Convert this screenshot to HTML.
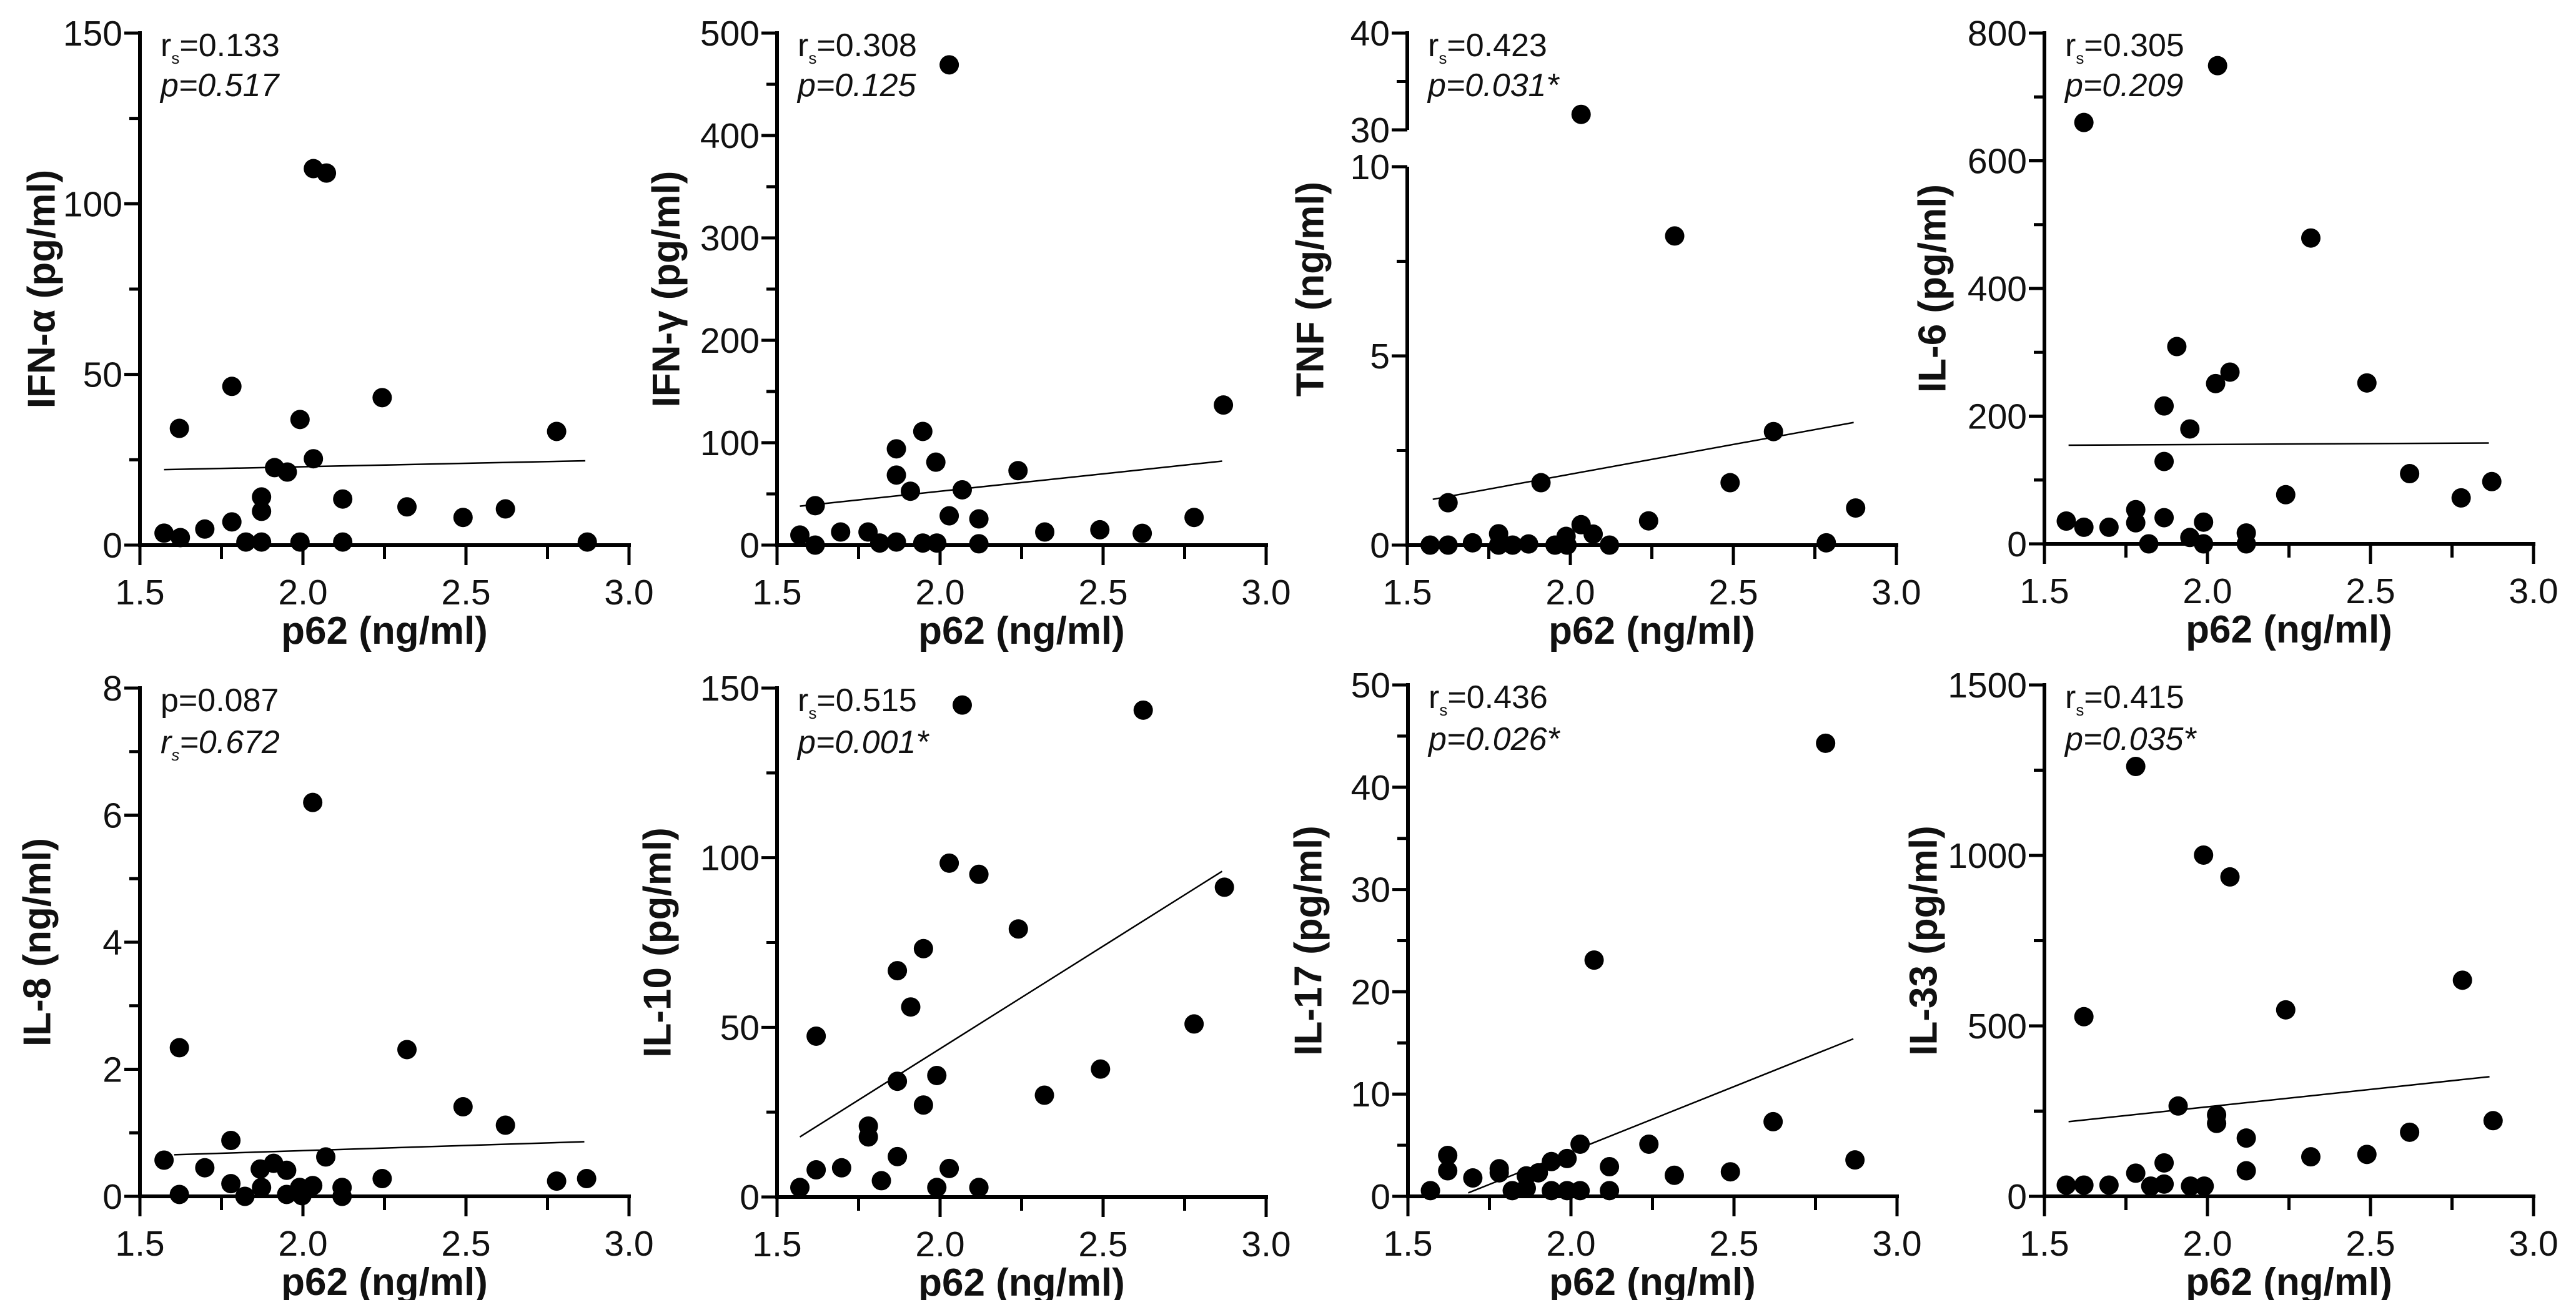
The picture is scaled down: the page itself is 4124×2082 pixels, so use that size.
<!DOCTYPE html>
<html><head><meta charset="utf-8"><style>
html,body{margin:0;padding:0;background:#fff;}
svg{display:block;font-family:"Liberation Sans",Arial,sans-serif;}
</style></head><body>
<svg id="fig" width="4124" height="2082" viewBox="0 0 4124 2082"></svg>
<script>
// ---- data (x = p62 ng/ml, y = cytokine) ----
const ifnaX=[1.574,1.624,1.699,1.782,1.782,1.621,1.825,1.873,1.873,1.873,1.913,1.952,1.991,1.991,2.032,2.032,2.072,2.122,2.122,2.243,2.319,2.491,2.621,2.778,2.872];
const ifnaY=[3.5,2.2,4.7,6.8,46.5,34.2,0.9,0.9,14.1,9.9,22.7,21.4,36.8,0.9,25.3,110.3,109,13.5,0.9,43.2,11.2,8.1,10.6,33.3,0.9];
const ifnaFit=[[1.574,22.1],[2.866,24.7]];
const ifngX=[1.570,1.617,1.617,1.695,1.779,1.815,1.866,1.866,1.866,1.909,1.947,1.947,1.987,1.99,2.028,2.028,2.068,2.119,2.119,2.239,2.321,2.49,2.62,2.779,2.869];
const ifngY=[9.8,0,38.5,12.8,12.8,2,3,68.4,94,52.6,111,2,81,2,28.6,469,54,25.6,1.3,72.7,12.8,15,11.5,27,136.8];
const ifngFit=[[1.57,38],[2.865,82]];
const tnfX=[1.57,1.625,1.625,1.70,1.78,1.78,1.823,1.872,1.91,1.953,1.987,1.99,2.033,2.033,2.07,2.12,2.24,2.32,2.49,2.623,2.785,2.875];
const tnfY=[0,0,1.12,0.06,0.3,0,0,0.03,1.65,0,0.23,0,0.54,31.6,0.29,0,0.64,8.17,1.65,3.0,0.06,0.98];
const tnfFit=[[1.578,1.21],[2.869,3.24]];
const il6X=[1.567,1.621,1.621,1.698,1.78,1.78,1.82,1.867,1.867,1.867,1.906,1.946,1.946,1.988,1.988,2.025,2.031,2.069,2.119,2.119,2.24,2.317,2.489,2.62,2.778,2.872];
const il6Y=[35.7,26,660,26,53.6,33,0,41,129,216,309,180,10,34,0,251,749,269,17,0,77,479,252,110,72,97.5];
const il6Fit=[[1.574,154.5],[2.863,158]];
const il8X=[1.574,1.621,1.621,1.699,1.779,1.779,1.822,1.869,1.873,1.91,1.95,1.95,1.99,1.997,2.03,2.03,2.07,2.12,2.12,2.243,2.319,2.491,2.621,2.778,2.87];
const il8Y=[0.57,0.03,2.34,0.45,0.88,0.2,0,0.43,0.14,0.52,0.41,0.03,0.14,0.01,0.17,6.2,0.62,0.14,0,0.28,2.31,1.41,1.12,0.24,0.28];
const il8Fit=[[1.605,0.655],[2.863,0.86]];
const il10X=[1.57,1.62,1.62,1.698,1.78,1.78,1.82,1.869,1.869,1.869,1.91,1.949,1.949,1.99,1.99,2.028,2.028,2.068,2.119,2.119,2.24,2.32,2.492,2.623,2.779,2.872];
const il10Y=[2.8,8,47.4,8.6,20.9,17.7,4.8,11.9,34.1,66.7,56,73.2,27.1,35.8,2.8,98.4,8.4,145,95.1,2.8,79,30,37.7,143.5,51,91.3];
const il10Fit=[[1.57,17.7],[2.865,96]];
const il17X=[1.569,1.622,1.622,1.699,1.78,1.78,1.82,1.863,1.863,1.90,1.94,1.94,1.988,1.988,2.028,2.028,2.071,2.118,2.118,2.239,2.317,2.489,2.62,2.781,2.871];
const il17Y=[0.56,2.5,4,1.8,2.7,2.3,0.56,2,0.8,2.3,3.4,0.56,3.7,0.56,0.56,5.1,23.1,2.9,0.56,5.1,2.06,2.4,7.3,44.3,3.56];
const il17Fit=[[1.685,0.34],[2.866,15.4]];
const il33X=[1.567,1.621,1.621,1.698,1.78,1.78,1.826,1.867,1.867,1.91,1.948,1.988,1.99,2.028,2.028,2.069,2.119,2.119,2.24,2.317,2.489,2.62,2.782,2.876];
const il33Y=[33,33,527,33,68,1261,30,98,36,265,30,1001,30,239,214,937,171,75,547,116,123,188,634,222];
const il33Fit=[[1.574,219],[2.865,351]];
const xTicks=[1.5,2.0,2.5,3.0];
const xTickLabels=["1.5","2.0","2.5","3.0"];

const NS="http://www.w3.org/2000/svg";
const svg=document.getElementById('fig');
function el(tag,attrs,parent){const e=document.createElementNS(NS,tag);for(const k in attrs)e.setAttribute(k,attrs[k]);(parent||svg).appendChild(e);return e;}

const panels=[
 {id:'ifn-alpha',ax:224,top:53,bot:873,ymax:150,major:[0,50,100,150],minor:[25,75,125],title:'IFN-α (pg/ml)',toff:157,xs:ifnaX,ys:ifnaY,fit:ifnaFit,l1:['r','=0.133',false],l2:['p','=0.517',true]},
 {id:'ifn-gamma',ax:1244,top:53,bot:873,ymax:500,major:[0,100,200,300,400,500],minor:[50,150,250,350,450],title:'IFN-γ (pg/ml)',toff:177,xs:ifngX,ys:ifngY,fit:ifngFit,l1:['r','=0.308',false],l2:['p','=0.125',true]},
 {id:'tnf',ax:2253,top:53,bot:873,brk:true,title:'TNF (ng/ml)',toff:155,xs:tnfX,ys:tnfY,fit:tnfFit,l1:['r','=0.423',false],l2:['p','=0.031*',true]},
 {id:'il-6',ax:3273,top:53,bot:871,ymax:800,major:[0,200,400,600,800],minor:[100,300,500,700],title:'IL-6 (pg/ml)',toff:179,xs:il6X,ys:il6Y,fit:il6Fit,l1:['r','=0.305',false],l2:['p','=0.209',true]},
 {id:'il-8',ax:224,top:1102,bot:1916,ymax:8,major:[0,2,4,6,8],minor:[1,3,5,7],title:'IL-8 (ng/ml)',toff:164,xs:il8X,ys:il8Y,fit:il8Fit,l1:['p','=0.087',false,true],l2:['r','=0.672',true]},
 {id:'il-10',ax:1244,top:1102,bot:1917,ymax:150,major:[0,50,100,150],minor:[25,75,125],title:'IL-10 (pg/ml)',toff:191,xs:il10X,ys:il10Y,fit:il10Fit,l1:['r','=0.515',false],l2:['p','=0.001*',true]},
 {id:'il-17',ax:2254,top:1097,bot:1916,ymax:50,major:[0,10,20,30,40,50],minor:[5,15,25,35,45],title:'IL-17 (pg/ml)',toff:159,xs:il17X,ys:il17Y,fit:il17Fit,l1:['r','=0.436',false],l2:['p','=0.026*',true]},
 {id:'il-33',ax:3273,top:1097,bot:1916,ymax:1500,major:[0,500,1000,1500],minor:[250,750,1250],title:'IL-33 (pg/ml)',toff:193,xs:il33X,ys:il33Y,fit:il33Fit,l1:['r','=0.415',false],l2:['p','=0.035*',true]}
];
const W=783;

panels.forEach(p=>{
  const g=el('g',{});
  
  
  const xs=v=>p.ax+(v-1.5)/1.5*W;
  let ys;
  if(p.brk){
    const upTop=p.top, upBot=208, loTop=267;
    ys=v=> v<=10 ? p.bot-(v/10)*(p.bot-loTop) : upBot-(v-30)/10*(upBot-upTop);
  } else {
    ys=v=>p.bot-v/p.ymax*(p.bot-p.top);
  }
  // y axis
  const yax=el('g',{},g);
  
  
  let major,minor;
  if(p.brk){
    el('line',{x1:p.ax,y1:p.bot+3,x2:p.ax,y2:267,stroke:'#000','stroke-width':6},yax);
    el('line',{x1:p.ax,y1:208,x2:p.ax,y2:p.top-3,stroke:'#000','stroke-width':6},yax);
    major=[0,5,10,30,40]; minor=[2.5,7.5,35];
  } else {
    el('line',{x1:p.ax,y1:p.bot+3,x2:p.ax,y2:p.top-3,stroke:'#000','stroke-width':6},yax);
    major=p.major; minor=p.minor;
  }
  major.forEach(v=>{
    const y=ys(v);
    el('line',{x1:p.ax-25,y1:y,x2:p.ax,y2:y,stroke:'#000','stroke-width':5},yax);
    const t=el('text',{x:p.ax-28,y:y+20,'text-anchor':'end','font-size':57,fill:'#111'},yax);
    t.textContent=String(v);
    
    
  });
  minor.forEach(v=>{
    const y=ys(v);
    el('line',{x1:p.ax-17,y1:y,x2:p.ax,y2:y,stroke:'#000','stroke-width':5},yax);
  });
  // x axis
  const xax=el('g',{},g);
  
  
  el('line',{x1:p.ax-3,y1:p.bot,x2:xs(3.0)+3,y2:p.bot,stroke:'#000','stroke-width':6},xax);
  xTicks.forEach((v,i)=>{
    const x=xs(v);
    el('line',{x1:x,y1:p.bot,x2:x,y2:p.bot+32,stroke:'#000','stroke-width':5},xax);
    if(i<xTicks.length-1){const xm=xs(v+0.25);el('line',{x1:xm,y1:p.bot,x2:xm,y2:p.bot+22,stroke:'#000','stroke-width':5},xax);}
    const t=el('text',{x:x,y:p.bot+95,'text-anchor':'middle','font-size':57,fill:'#111'},xax);
    t.textContent=xTickLabels[i];
    
    
  });
  const xt=el('text',{x:p.ax+W/2,y:p.bot+158,'text-anchor':'middle','font-size':62,'font-weight':'bold',fill:'#111'},g);
  xt.textContent='p62 (ng/ml)';
  
  
  const cx=p.ax-p.toff, cy=(p.top+p.bot)/2;
  const yt=el('text',{x:cx,y:cy,'text-anchor':'middle','dominant-baseline':'central','font-size':62,'font-weight':'bold',fill:'#111',transform:`rotate(-90 ${cx} ${cy})`},g);
  yt.textContent=p.title;
  
  
  // annotations
  [[p.l1,37],[p.l2,p.top>500?104:101]].forEach(([l,dy])=>{
    const t=el('text',{x:p.ax+33,y:p.top+dy,'font-size':52,fill:'#111'},g);
    
    
    if(l[2]) t.setAttribute('font-style','italic');
    const a=el('tspan',{},t); a.textContent=l[0];
    if(l[0]==='r'){const s=el('tspan',{'font-size':26,dy:12},t); s.textContent='s'; const r=el('tspan',{dy:-12},t); r.textContent=l[1];}
    else {const r=el('tspan',{},t); r.textContent=l[1];}
  });
  // fit line
  const fl=el('line',{x1:xs(p.fit[0][0]),y1:ys(p.fit[0][1]),x2:xs(p.fit[1][0]),y2:ys(p.fit[1][1]),stroke:'#000','stroke-width':2.5},g);
  
  
  // points
  p.xs.forEach((xv,i)=>{
    const c=el('circle',{cx:xs(xv),cy:ys(p.ys[i]),r:15.5,fill:'#000'},g);
    
    
  });
});
</script>
</body></html>
